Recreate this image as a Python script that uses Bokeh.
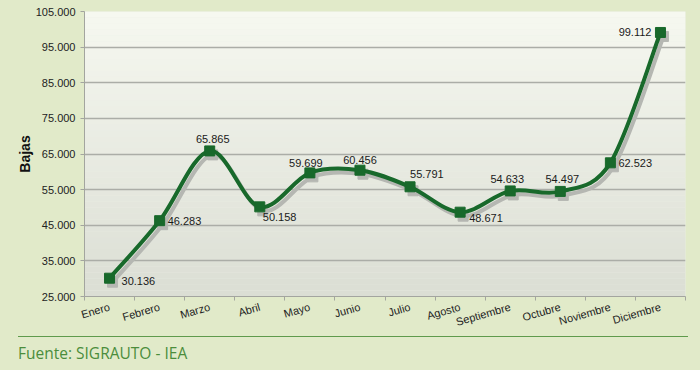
import numpy as np
from bokeh.plotting import figure
from bokeh.layouts import column
from bokeh.models import FixedTicker, BoxAnnotation, Div
from bokeh.core.properties import value
from bokeh.embed import file_html
from bokeh.resources import INLINE

# ---- data ----
months = ["Enero", "Febrero", "Marzo", "Abril", "Mayo", "Junio", "Julio",
          "Agosto", "Septiembre", "Octubre", "Noviembre", "Diciembre"]
bajas = [30136, 46283, 65865, 50158, 59699, 60456, 55791, 48671, 54633, 54497, 62523, 99112]
y_ticks = [25000, 35000, 45000, 55000, 65000, 75000, 85000, 95000, 105000]
source_text = "Fuente: SIGRAUTO - IEA"

# label placement (style, not data)
lab_align = ["left", "left", "center", "left", "center", "center", "left", "left",
             "center", "center", "left", "right"]
lab_dx = [12, 8, 3, 3, -4, 0, 0, 9, -3, 2, 8, -9]
lab_dy = [3, 0, -12, 10, -10, -10, -13, 6, -12, -12, 0, 0]


def fmt(v):
    return f"{v:,}".replace(",", ".")


W, H = 700, 336
L, R, T, B = 84, 15, 11, 39
FW, FH = W - L - R, H - T - B

BG = "#e1eac9"
GREEN = "#18692b"
SHADOW = "#b5b7b2"
FONT = "Liberation Sans"

x = np.arange(len(months), dtype=float)
y = np.array(bajas, dtype=float)
x0r, x1r = -0.5, len(months) - 0.5
y0r, y1r = y_ticks[0], y_ticks[-1]

p = figure(width=W, height=H, output_backend="svg", toolbar_location=None,
           x_range=(x0r, x1r), y_range=(y0r, y1r),
           min_border_left=L, min_border_right=R, min_border_top=T, min_border_bottom=B)
p.border_fill_color = BG
p.background_fill_color = "#eceee5"
p.outline_line_color = None

# gradient background
n = 48
top_c = np.array([246, 248, 240])
bot_c = np.array([219, 222, 212])
for i in range(n):
    f = (i + 0.5) / n
    c = bot_c + (top_c - bot_c) * f
    col = "#%02x%02x%02x" % tuple(int(round(v)) for v in c)
    b = BoxAnnotation(bottom=y0r + (y1r - y0r) * i / n, top=y0r + (y1r - y0r) * (i + 1) / n + 1,
                      fill_color=col, fill_alpha=1, line_color=None, level="image")
    p.add_layout(b)

# grid
p.xgrid.grid_line_color = None
p.ygrid.grid_line_color = "#abada7"
p.ygrid.grid_line_width = 1.5

# y axis
p.yaxis.ticker = FixedTicker(ticks=y_ticks)
p.yaxis.major_label_overrides = {t: fmt(t) for t in y_ticks}
p.yaxis.minor_tick_line_color = None
p.yaxis.major_tick_in = 0
p.yaxis.major_tick_out = 4
p.yaxis.axis_line_color = "#a3a59f"
p.yaxis.major_tick_line_color = "#a3a59f"
p.yaxis.major_label_text_font = FONT
p.yaxis.major_label_text_font_size = "11px"
p.yaxis.major_label_text_color = "#222222"
p.yaxis.axis_label = "Bajas"
p.yaxis.axis_label_text_font = FONT
p.yaxis.axis_label_text_font_size = "14px"
p.yaxis.axis_label_text_font_style = "bold"
p.yaxis.axis_label_text_color = "#111111"
p.yaxis.axis_label_standoff = 0

# x axis
p.xaxis.ticker = FixedTicker(ticks=list(x), minor_ticks=[i - 0.5 for i in range(len(months) + 1)])
p.xaxis.major_label_overrides = {i: m for i, m in enumerate(months)}
p.xaxis.major_tick_line_color = None
p.xaxis.major_tick_in = 0
p.xaxis.major_tick_out = 0
p.xaxis.minor_tick_in = 0
p.xaxis.minor_tick_out = 4
p.xaxis.minor_tick_line_color = "#a3a59f"
p.xaxis.axis_line_color = "#a3a59f"
p.xaxis.major_label_orientation = 0.28
p.xaxis.major_label_text_font = FONT
p.xaxis.major_label_text_font_size = "11px"
p.xaxis.major_label_text_color = "#222222"
p.xaxis.major_label_standoff = 6

# smoothed curve (Catmull-Rom -> cubic Bezier) computed from data
xp = np.concatenate([[x[0]], x, [x[-1]]])
yp = np.concatenate([[y[0]], y, [y[-1]]])
m = len(x) - 1
sx0, sy0 = xp[1:m + 1], yp[1:m + 1]
sx1, sy1 = xp[2:m + 2], yp[2:m + 2]
cx0 = sx0 + (xp[2:m + 2] - xp[0:m]) / 6
cy0 = sy0 + (yp[2:m + 2] - yp[0:m]) / 6
cx1 = sx1 - (xp[3:m + 3] - xp[1:m + 1]) / 6
cy1 = sy1 - (yp[3:m + 3] - yp[1:m + 1]) / 6

px_x = (x1r - x0r) / FW
px_y = (y1r - y0r) / FH
ox, oy = 3 * px_x, -4 * px_y

p.bezier(x0=sx0 + ox, y0=sy0 + oy, x1=sx1 + ox, y1=sy1 + oy,
         cx0=cx0 + ox, cy0=cy0 + oy, cx1=cx1 + ox, cy1=cy1 + oy,
         line_color=SHADOW, line_width=4)
p.scatter(x + ox, y + oy, marker="square", size=10, color=SHADOW)
p.bezier(x0=sx0, y0=sy0, x1=sx1, y1=sy1, cx0=cx0, cy0=cy0, cx1=cx1, cy1=cy1,
         line_color=GREEN, line_width=4)
p.scatter(x, y, marker="square", size=10, color=GREEN)

# data labels
for al in ["left", "center", "right"]:
    idx = [i for i, a in enumerate(lab_align) if a == al]
    p.text(x=[x[i] for i in idx], y=[y[i] for i in idx],
           text=[fmt(bajas[i]) for i in idx],
           x_offset=[lab_dx[i] for i in idx], y_offset=[lab_dy[i] for i in idx],
           text_align=al, text_baseline="middle",
           text_font=value(FONT), text_font_size="11px", text_color="#1a1a1a")

# footer
footer = Div(
    text=(f'<div style="width:670px;margin-left:18px;margin-top:0px;'
          f'border-top:1.5px solid #5f9a4c;padding-top:7px;'
          f'font-family:\'Open Sans\';font-size:15.5px;line-height:18px;'
          f'color:#4b8d3c;">{source_text}</div>'),
    width=W, height=370 - H,
    styles={"background-color": BG, "margin": "0", "padding": "0"})

layout = column(p, footer, spacing=0, styles={"background-color": BG})

open("out.html", "w").write(file_html(layout, INLINE))
